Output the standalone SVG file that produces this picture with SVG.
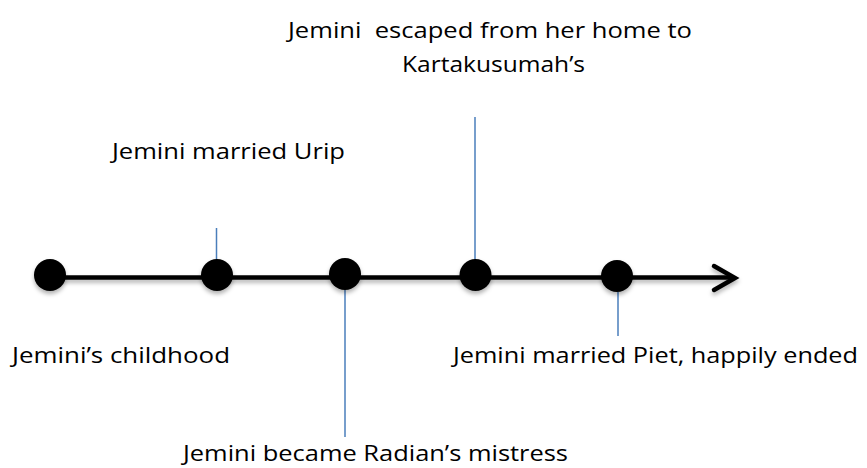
<svg xmlns="http://www.w3.org/2000/svg" width="867" height="468" viewBox="0 0 867 468">
  <style>
    .lbl { font-family: "Open Sans", "Liberation Sans", sans-serif; font-size: 22.5px; fill: #000; }
    .tick { stroke: #4a7ebb; stroke-width: 1.5; fill: none; }
    .dot { fill: #000; }
  </style>
  <defs>
    <filter id="shadow" x="-10%" y="-50%" width="120%" height="200%">
      <feDropShadow dx="0" dy="3" stdDeviation="2" flood-color="#000" flood-opacity="0.3"/>
    </filter>
  </defs>
  <rect width="867" height="468" fill="#fff"/>
  <g id="connectors">
    <g filter="url(#shadow)">
      <line x1="40" y1="277.5" x2="733" y2="277.5" stroke="#000" stroke-width="4.5"/>
      <polyline points="714,266 735,278 714,290" fill="none" stroke="#000" stroke-width="4.5" stroke-linecap="round" stroke-linejoin="miter"/>
    </g>
    <line class="tick" x1="216.5" y1="228" x2="216.5" y2="262"/>
    <line class="tick" x1="345" y1="278" x2="345" y2="437"/>
    <line class="tick" x1="475" y1="117" x2="475" y2="262"/>
    <line class="tick" x1="618" y1="292" x2="618" y2="336"/>
  </g>
  <g id="node-childhood">
    <circle class="dot" cx="50" cy="275" r="16" filter="url(#shadow)"/>
    <text class="lbl" x="12" y="363" textLength="218" lengthAdjust="spacingAndGlyphs">Jemini’s childhood</text>
  </g>
  <g id="node-urip">
    <circle class="dot" cx="217" cy="275" r="16" filter="url(#shadow)"/>
    <text class="lbl" x="112" y="159" textLength="233" lengthAdjust="spacingAndGlyphs">Jemini married Urip</text>
  </g>
  <g id="node-radian">
    <circle class="dot" cx="345" cy="274" r="16" filter="url(#shadow)"/>
    <text class="lbl" x="183" y="461" textLength="385" lengthAdjust="spacingAndGlyphs">Jemini became Radian’s mistress</text>
  </g>
  <g id="node-escape">
    <circle class="dot" cx="475.5" cy="275" r="16" filter="url(#shadow)"/>
    <text class="lbl" x="288" y="38" textLength="404" lengthAdjust="spacingAndGlyphs" xml:space="preserve">Jemini  escaped from her home to</text>
    <text class="lbl" x="402" y="72" textLength="183" lengthAdjust="spacingAndGlyphs">Kartakusumah’s</text>
  </g>
  <g id="node-piet">
    <circle class="dot" cx="617" cy="276" r="16" filter="url(#shadow)"/>
    <text class="lbl" x="453" y="363" textLength="405" lengthAdjust="spacingAndGlyphs">Jemini married Piet, happily ended</text>
  </g>
</svg>
